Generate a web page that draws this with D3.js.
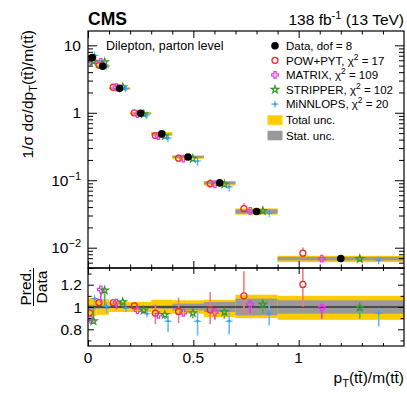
<!DOCTYPE html>
<html>
<head>
<meta charset="utf-8">
<script src="https://cdn.jsdelivr.net/npm/d3@7"></script>
<style>
  body { margin: 0; background: #fff; }
  svg { display: block; font-family: "Liberation Sans", Arial, Helvetica, sans-serif; }
</style>
</head>
<body>
<svg id="chart" width="407" height="394"></svg>
<script>
// bins in pT(tt)/m(tt)
const binEdges = [0, 0.04, 0.1, 0.2, 0.3, 0.4, 0.55, 0.7, 0.9, 1.5];
const dataValues = [6.6, 4.9, 2.3, 0.985, 0.486, 0.221, 0.0913, 0.0344, 0.0069];

// relative uncertainties of the measurement
const totUncUp = [0.08, 0.07, 0.045, 0.045, 0.065, 0.06, 0.065, 0.11, 0.10];
const totUncDn = [0.08, 0.07, 0.045, 0.045, 0.065, 0.06, 0.09, 0.10, 0.115];
const statUncUp = [0.02, 0.015, 0.01, 0.012, 0.015, 0.03, 0.045, 0.075, 0.06];
const statUncDn = [0.02, 0.015, 0.01, 0.012, 0.015, 0.03, 0.045, 0.075, 0.06];

// prediction / data ratios with their uncertainties
const powRatio = [0.948, 1.039, 1.039, 1.01, 0.945, 0.96, 0.975, 1.10, 1.203];
const powUp = [0.02, 0.02, 0.02, 0.035, 0.085, 0.125, 0.16, 0.22, 0.25];
const powDn = [0.02, 0.02, 0.02, 0.035, 0.097, 0.105, 0.13, 0.155, 0.2];

const matrixRatio = [0.885, 1.157, 1.039, 0.97, 0.93, 0.948, 0.955, 1.024, 0.995];
const matrixUp = [0.01, 0.01, 0.01, 0.01, 0.01, 0.01, 0.01, 0.01, 0.01];
const matrixDn = [0.02, 0.12, 0.06, 0.03, 0.03, 0.03, 0.07, 0.08, 0.1];

const stripperRatio = [0.873, 1.15, 1.045, 0.97, 0.93, 0.945, 0.955, 1.024, 0.995];
const stripperUp = [0.13, 0.01, 0.01, 0.01, 0.01, 0.01, 0.01, 0.02, 0.01];
const stripperDn = [0.01, 0.14, 0.04, 0.03, 0.04, 0.045, 0.06, 0.08, 0.1];

const minnloRatio = [1.075, 1.005, 0.99, 0.94, 0.873, 0.873, 0.873, 0.94, 0.945];
const minnloUp = [0.03, 0.036, 0.03, 0.03, 0.05, 0.08, 0.08, 0.076, 0.04];
const minnloDn = [0.03, 0.06, 0.03, 0.03, 0.1, 0.13, 0.12, 0.106, 0.12];

const legendLabels = ["Data, dof = 8", "POW+PYT", "MATRIX", "STRIPPER", "MiNNLOPS"];
const chi2Values = [17, 109, 102, 20];

const yMajorTicks = [0.01, 0.1, 1, 10];
const yMinorTicks = [0.005, 0.006, 0.007, 0.008, 0.009, 0.02, 0.03, 0.04, 0.05, 0.06, 0.07, 0.08, 0.09,
  0.2, 0.3, 0.4, 0.5, 0.6, 0.7, 0.8, 0.9, 2, 3, 4, 5, 6, 7, 8, 9];
const xMajorTicks = [0, 0.5, 1];
const xMinorTicks = [0.1, 0.2, 0.3, 0.4, 0.6, 0.7, 0.8, 0.9, 1.1, 1.2, 1.3, 1.4];
const rMajorTicks = [0.8, 1, 1.2];
const rMinorTicks = [0.7, 0.9, 1.1, 1.3];

const yellow = "#ffcc00";
const grey = "#999999";

const models = [
  { ratio: powRatio, up: powUp, dn: powDn, color: "#f0282a", bar: "#f77b7d", marker: "circle", off: -0.3 },
  { ratio: matrixRatio, up: matrixUp, dn: matrixDn, color: "#e838e8", bar: "#e838e8", marker: "cross", off: -0.15 },
  { ratio: stripperRatio, up: stripperUp, dn: stripperDn, color: "#2e9a2e", bar: "#4fae4f", marker: "star", off: 0.15 },
  { ratio: minnloRatio, up: minnloUp, dn: minnloDn, color: "#3a9ff0", bar: "#6cb8f4", marker: "star4", off: 0.3 },
];

const xLeft = 88, xRight = 404, yTop = 31, ySplit = 268, yBottom = 346;
const svg = d3.select("#chart");

const x = d3.scaleLinear().domain([0, 1.5]).range([xLeft, xRight]);
const y = d3.scaleLog().domain([0.005, 16.3]).range([ySplit, yTop]);
const yr = d3.scaleLinear().domain([0.65, 1.35]).range([yBottom, ySplit]);

const bins = dataValues.map((v, i) => ({
  i, v, lo: binEdges[i], hi: binEdges[i + 1],
  c: (binEdges[i] + binEdges[i + 1]) / 2, w: binEdges[i + 1] - binEdges[i],
}));

const defs = svg.append("defs");
defs.append("clipPath").attr("id", "clipTop").append("rect")
  .attr("x", xLeft).attr("y", yTop).attr("width", xRight - xLeft).attr("height", ySplit - yTop);
defs.append("clipPath").attr("id", "clipRatio").append("rect")
  .attr("x", xLeft).attr("y", ySplit).attr("width", xRight - xLeft).attr("height", yBottom - ySplit);

function star4Path(R, r) {
  const pts = [];
  for (let k = 0; k < 8; k++) {
    const a = (k * Math.PI) / 4 - Math.PI / 2;
    const rad = k % 2 === 0 ? R : r;
    pts.push([rad * Math.cos(a), rad * Math.sin(a)]);
  }
  return "M" + pts.map((p) => p.join(",")).join("L") + "Z";
}

function drawMarker(g, type, color) {
  if (type === "circle") {
    g.append("circle").attr("r", 3).attr("fill", "none").attr("stroke", color).attr("stroke-width", 1.3);
  } else if (type === "cross") {
    g.append("path").attr("d", d3.symbol(d3.symbolCross, 24)()).attr("fill", "none")
      .attr("stroke", color).attr("stroke-width", 1.2);
  } else if (type === "star") {
    g.append("path").attr("d", d3.symbol(d3.symbolStar, 17)()).attr("fill", "none")
      .attr("stroke", color).attr("stroke-width", 1.2);
  } else if (type === "star4") {
    g.append("path").attr("d", star4Path(4.6, 1.1)).attr("fill", color);
  } else if (type === "data") {
    g.append("circle").attr("r", 3.8).attr("fill", "#000");
  }
}

// vertical error bar with a gap round the marker
function drawBar(g, yc, yHi, yLo, color, gap) {
  if (yHi < yc - gap) {
    g.append("line").attr("x1", 0).attr("x2", 0).attr("y1", yHi - yc).attr("y2", -gap)
      .attr("stroke", color).attr("stroke-width", 1.6);
  }
  if (yLo > yc + gap) {
    g.append("line").attr("x1", 0).attr("x2", 0).attr("y1", gap).attr("y2", yLo - yc)
      .attr("stroke", color).attr("stroke-width", 1.6);
  }
}

// ---------- upper panel ----------
const upper = svg.append("g").attr("clip-path", "url(#clipTop)");

upper.selectAll("rect.tot").data(bins).join("rect").attr("class", "tot")
  .attr("x", (d) => x(d.lo)).attr("width", (d) => x(d.hi) - x(d.lo))
  .attr("y", (d) => y(d.v * (1 + totUncUp[d.i])))
  .attr("height", (d) => y(d.v * (1 - totUncDn[d.i])) - y(d.v * (1 + totUncUp[d.i])))
  .attr("fill", yellow);

upper.selectAll("rect.stat").data(bins).join("rect").attr("class", "stat")
  .attr("x", (d) => x(d.lo)).attr("width", (d) => x(d.hi) - x(d.lo))
  .attr("y", (d) => y(d.v * (1 + statUncUp[d.i])))
  .attr("height", (d) => y(d.v * (1 - statUncDn[d.i])) - y(d.v * (1 + statUncUp[d.i])))
  .attr("fill", grey);

models.forEach((m) => {
  bins.forEach((b) => {
    const val = b.v * m.ratio[b.i];
    const yc = y(val);
    const g = upper.append("g").attr("transform", `translate(${x(b.c + m.off * b.w)},${yc})`);
    drawBar(g, yc, y(b.v * (m.ratio[b.i] + m.up[b.i])), y(b.v * (m.ratio[b.i] - m.dn[b.i])), m.bar, 3);
    drawMarker(g, m.marker, m.color);
  });
});

bins.forEach((b) => {
  const g = upper.append("g").attr("transform", `translate(${x(b.c)},${y(b.v)})`);
  drawMarker(g, "data");
});

// ---------- ratio panel ----------
const ratio = svg.append("g").attr("clip-path", "url(#clipRatio)");

ratio.selectAll("rect.tot").data(bins).join("rect").attr("class", "tot")
  .attr("x", (d) => x(d.lo)).attr("width", (d) => x(d.hi) - x(d.lo))
  .attr("y", (d) => yr(1 + totUncUp[d.i]))
  .attr("height", (d) => yr(1 - totUncDn[d.i]) - yr(1 + totUncUp[d.i]))
  .attr("fill", yellow);

ratio.selectAll("rect.stat").data(bins).join("rect").attr("class", "stat")
  .attr("x", (d) => x(d.lo)).attr("width", (d) => x(d.hi) - x(d.lo))
  .attr("y", (d) => yr(1 + statUncUp[d.i]))
  .attr("height", (d) => yr(1 - statUncDn[d.i]) - yr(1 + statUncUp[d.i]))
  .attr("fill", grey);

ratio.append("line").attr("x1", xLeft).attr("x2", xRight).attr("y1", yr(1)).attr("y2", yr(1))
  .attr("stroke", "#000").attr("stroke-width", 1.2);

models.forEach((m) => {
  bins.forEach((b) => {
    const yc = yr(m.ratio[b.i]);
    const g = ratio.append("g").attr("transform", `translate(${x(b.c + m.off * b.w)},${yc})`);
    drawBar(g, yc, yr(m.ratio[b.i] + m.up[b.i]), yr(m.ratio[b.i] - m.dn[b.i]), m.bar, 3);
    drawMarker(g, m.marker, m.color);
  });
});

// ---------- axes ----------
function ticks(axis, tr, len, values) {
  svg.append("g").attr("transform", tr)
    .call(axis.tickValues(values).tickSizeInner(-len).tickSizeOuter(0).tickFormat(""))
    .call((g) => g.select(".domain").remove())
    .call((g) => g.selectAll("line").attr("stroke", "#000"));
}

// upper panel
ticks(d3.axisLeft(y), `translate(${xLeft},0)`, 9, yMajorTicks);
ticks(d3.axisLeft(y), `translate(${xLeft},0)`, 5, yMinorTicks);
ticks(d3.axisRight(y), `translate(${xRight},0)`, 9, yMajorTicks);
ticks(d3.axisRight(y), `translate(${xRight},0)`, 5, yMinorTicks);
ticks(d3.axisTop(x), `translate(0,${yTop})`, 7, xMajorTicks);
ticks(d3.axisTop(x), `translate(0,${yTop})`, 3.5, xMinorTicks);
ticks(d3.axisBottom(x), `translate(0,${ySplit})`, 7, xMajorTicks);
ticks(d3.axisBottom(x), `translate(0,${ySplit})`, 3.5, xMinorTicks);

// ratio panel
ticks(d3.axisLeft(yr), `translate(${xLeft},0)`, 6, rMajorTicks);
ticks(d3.axisLeft(yr), `translate(${xLeft},0)`, 3.5, rMinorTicks);
ticks(d3.axisRight(yr), `translate(${xRight},0)`, 6, rMajorTicks);
ticks(d3.axisRight(yr), `translate(${xRight},0)`, 3.5, rMinorTicks);
ticks(d3.axisTop(x), `translate(0,${ySplit})`, 6, xMajorTicks);
ticks(d3.axisTop(x), `translate(0,${ySplit})`, 3, xMinorTicks);
ticks(d3.axisBottom(x), `translate(0,${yBottom})`, 6, xMajorTicks);
ticks(d3.axisBottom(x), `translate(0,${yBottom})`, 3, xMinorTicks);

// frames
svg.append("rect").attr("x", xLeft).attr("y", yTop).attr("width", xRight - xLeft).attr("height", ySplit - yTop)
  .attr("fill", "none").attr("stroke", "#000").attr("stroke-width", 1.2);
svg.append("rect").attr("x", xLeft).attr("y", ySplit).attr("width", xRight - xLeft).attr("height", yBottom - ySplit)
  .attr("fill", "none").attr("stroke", "#000").attr("stroke-width", 1.2);

// tick labels
const fs = 15.5;
yMajorTicks.forEach((v) => {
  const t = svg.append("text").attr("x", xLeft - 7).attr("y", y(v) + 5.5)
    .attr("text-anchor", "end").attr("font-size", fs);
  const p = Math.round(Math.log10(v));
  if (p === 0) t.text("1");
  else if (p === 1) t.text("10");
  else {
    t.append("tspan").text("10");
    t.append("tspan").attr("dy", -6).attr("font-size", 11).text("\u2212" + -p);
  }
});
rMajorTicks.forEach((v) => {
  svg.append("text").attr("x", xLeft - 6).attr("y", yr(v) + 5.5)
    .attr("text-anchor", "end").attr("font-size", fs).text(d3.format("~g")(v));
});
xMajorTicks.forEach((v) => {
  svg.append("text").attr("x", x(v)).attr("y", yBottom + 17)
    .attr("text-anchor", "middle").attr("font-size", fs).text(d3.format("~g")(v));
});

// axis titles
const tt = "t\u0074\u0304";
const xt = svg.append("text").attr("x", xRight).attr("y", 383).attr("text-anchor", "end").attr("font-size", fs);
xt.append("tspan").text("p");
xt.append("tspan").attr("dy", 4).attr("font-size", 11).text("T");
xt.append("tspan").attr("dy", -4).text(`(${tt})/m(${tt})`);

const yt = svg.append("text").attr("transform", `translate(33,${yTop - 1}) rotate(-90)`)
  .attr("text-anchor", "end").attr("font-size", fs);
yt.append("tspan").text("1/\u03c3 d\u03c3/dp");
yt.append("tspan").attr("dy", 4).attr("font-size", 11).text("T");
yt.append("tspan").attr("dy", -4).text(`(${tt})/m(${tt})`);

const rt = svg.append("g").attr("transform", `translate(0,287) rotate(-90)`);
rt.append("text").attr("x", 0).attr("y", 31).attr("text-anchor", "middle").attr("font-size", fs).text("Pred.");
rt.append("line").attr("x1", -19).attr("x2", 19).attr("y1", 33.5).attr("y2", 33.5).attr("stroke", "#000").attr("stroke-width", 1);
rt.append("text").attr("x", 0).attr("y", 47).attr("text-anchor", "middle").attr("font-size", fs).text("Data");

// header
svg.append("text").attr("x", xLeft).attr("y", 25).attr("font-size", 17.5).attr("font-weight", "bold").text("CMS");
const lumi = svg.append("text").attr("x", xRight).attr("y", 25).attr("text-anchor", "end").attr("font-size", fs);
lumi.append("tspan").text("138 fb");
lumi.append("tspan").attr("dy", -6).attr("font-size", 11).text("-1");
lumi.append("tspan").attr("dy", 6).text(" (13 TeV)");

svg.append("text").attr("x", 106).attr("y", 50).attr("font-size", 12.5).text("Dilepton, parton level");

// legend
const legX = 275, legTextX = 286;
const legRows = [45.7, 60.3, 74.9, 89.5, 104.1, 120, 135.5];
const legMarkers = ["data", "circle", "cross", "star", "star4"];
const legColors = ["#000", ...models.map((m) => m.color)];
legendLabels.forEach((lab, k) => {
  const g = svg.append("g").attr("transform", `translate(${legX},${legRows[k]})`);
  drawMarker(g, legMarkers[k], legColors[k]);
  const t = svg.append("text").attr("x", legTextX).attr("y", legRows[k] + 4.2).attr("font-size", 11.5);
  if (k === 0) t.text(lab);
  else {
    t.append("tspan").text(lab + ", \u03c7");
    t.append("tspan").attr("dy", -5).attr("font-size", 8.5).text("2");
    t.append("tspan").attr("dy", 5).text(" = " + chi2Values[k - 1]);
  }
});
[["Total unc.", yellow], ["Stat. unc.", grey]].forEach(([lab, col], k) => {
  const yy = legRows[5 + k];
  svg.append("rect").attr("x", 267.5).attr("y", yy - 4.7).attr("width", 15).attr("height", 9.5).attr("fill", col);
  svg.append("text").attr("x", legTextX).attr("y", yy + 4.2).attr("font-size", 11.5).text(lab);
});
</script>
</body>
</html>
